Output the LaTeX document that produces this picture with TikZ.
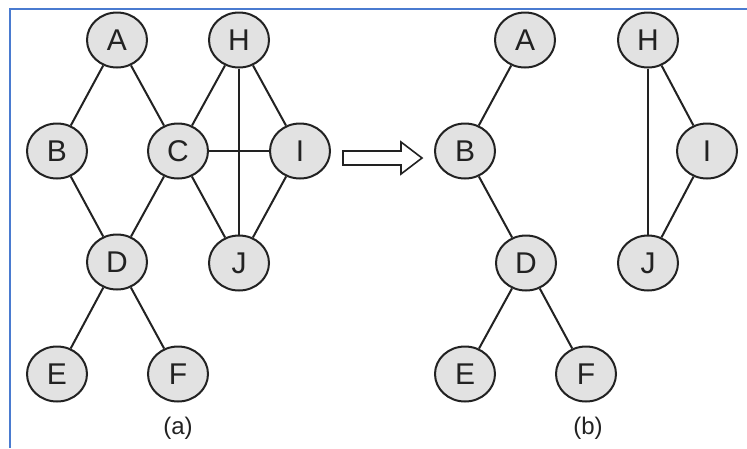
\documentclass[tikz,border=0pt]{standalone}
\usepackage{fontspec}
\setmainfont{Liberation Sans}
\usepackage{tikz}
\usetikzlibrary{shapes.geometric}
\definecolor{vfill}{HTML}{E2E2E2}
\definecolor{ink}{HTML}{222222}
\definecolor{frameblue}{HTML}{4A7BD0}
\tikzset{every path/.style={line width=2pt}}
\tikzset{vert/.style={ellipse,draw=ink,fill=vfill,minimum width=60pt,minimum height=55pt,inner sep=0pt,font=\fontsize{30}{30}\selectfont}}
\tikzset{sublabel/.style={font=\fontsize{24}{24}\selectfont,text=ink}}

\begin{document}
\begin{tikzpicture}[x=1pt,y=-1pt,color=ink]
\useasboundingbox (0,0) rectangle (747,448);
\fill[white] (0,0) rectangle (747,448);
\draw[frameblue,line width=1.3pt] (747,9) -- (10,9) -- (10,448);
% graph (a)
\node[vert] (A1) at (117,40) {A};
\node[vert] (H1) at (239,40) {H};
\node[vert] (B1) at (57,151) {B};
\node[vert] (C1) at (178,151) {C};
\node[vert] (I1) at (300,151) {I};
\node[vert] (D1) at (117,262) {D};
\node[vert] (J1) at (239,263) {J};
\node[vert] (E1) at (57,374) {E};
\node[vert] (F1) at (178,374) {F};
\draw (A1) -- (B1);
\draw (A1) -- (C1);
\draw (B1) -- (D1);
\draw (C1) -- (D1);
\draw (D1) -- (E1);
\draw (D1) -- (F1);
\draw (C1) -- (H1);
\draw (H1) -- (I1);
\draw (C1) -- (I1);
\draw (C1) -- (J1);
\draw (I1) -- (J1);
\draw (H1) -- (J1);
\node[sublabel] (capa) at (178,428) {(a)};
% hollow arrow
\draw[fill=white,line width=1.6pt] (343,151) -- (401,151) -- (401,142) -- (422,158)
  -- (401,174) -- (401,165) -- (343,165) -- cycle;
% graph (b)
\node[vert] (A2) at (525,40) {A};
\node[vert] (H2) at (648,40) {H};
\node[vert] (B2) at (465,151) {B};
\node[vert] (I2) at (707,151) {I};
\node[vert] (D2) at (526,263) {D};
\node[vert] (J2) at (648,263) {J};
\node[vert] (E2) at (465,374) {E};
\node[vert] (F2) at (586,374) {F};
\draw (A2) -- (B2);
\draw (B2) -- (D2);
\draw (D2) -- (E2);
\draw (D2) -- (F2);
\draw (H2) -- (I2);
\draw (I2) -- (J2);
\draw (H2) -- (J2);
\node[sublabel] (capb) at (588,428) {(b)};
\end{tikzpicture}
\end{document}
